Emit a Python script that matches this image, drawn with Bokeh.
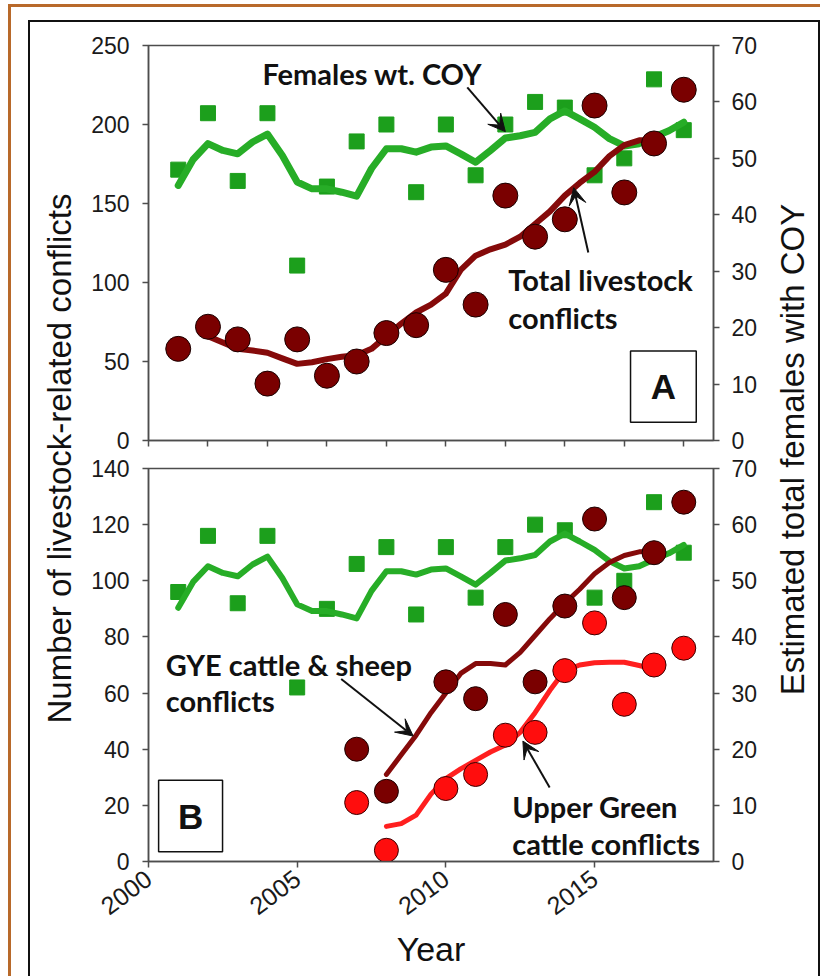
import math
from bokeh.plotting import figure
from bokeh.models import Range1d, LinearAxis, FixedTicker, Label, Arrow, VeeHead, BoxAnnotation
from bokeh.layouts import row, column
from bokeh.embed import file_html
from bokeh.resources import INLINE

# ---------------- data ----------------
years = [2001, 2002, 2003, 2004, 2005, 2006, 2007, 2008, 2009,
         2010, 2011, 2012, 2013, 2014, 2015, 2016, 2017, 2018]
total_conflicts = [58, 72, 64, 36, 64, 41, 50, 68, 73,
                   108, 86, 155, 129, 140, 212, 157, 188, 222]
females_coy = [48, 58, 46, 58, 31, 45, 53, 56, 44,
               56, 47, 56, 60, 59, 47, 50, 64, 55]

coy_trend_years = [2001, 2001.5, 2002, 2002.5, 2003, 2003.5, 2004, 2004.5, 2005,
                   2005.5, 2006, 2006.5, 2007, 2007.5, 2008, 2008.5, 2009, 2009.5,
                   2010, 2010.5, 2011, 2011.5, 2012, 2012.5, 2013, 2013.5, 2014,
                   2014.5, 2015, 2015.5, 2016, 2016.5, 2017, 2017.5, 2018]
coy_trend = [45.2, 49.8, 52.6, 51.4, 50.8, 52.9, 54.3, 50.5, 45.8,
             44.6, 44.6, 44.0, 43.3, 48.2, 51.7, 51.7, 51.1, 52.0,
             52.2, 50.8, 49.3, 51.4, 53.6, 54.0, 54.6, 57.0, 58.4,
             57.0, 55.5, 53.5, 52.2, 52.6, 53.8, 54.9, 56.4]

total_trend_years = [2002, 2002.5, 2003, 2003.5, 2004, 2004.5, 2005, 2005.5, 2006,
                     2006.5, 2007, 2007.5, 2008, 2008.5, 2009, 2009.5, 2010, 2010.5,
                     2011, 2011.5, 2012, 2012.5, 2013, 2013.5, 2014, 2014.5, 2015,
                     2015.5, 2016, 2016.5, 2017]
total_trend = [66, 62, 58, 57, 55.5, 52, 48.5, 49.5, 51.5,
               53, 54, 58, 66, 74, 81, 86, 93, 108,
               117, 121, 124, 129, 137, 145, 155, 163, 170,
               180, 187, 190, 190]

sub_years = [2007, 2008, 2010, 2011, 2012, 2013, 2014, 2015, 2016, 2017, 2018]
gye_conflicts = [40, 25, 64, 58, 88, 64, 91, 122, 94, 110, 128]
ug_conflicts = [21, 4, 26, 31, 45, 46, 68, 85, 56, 70, 76]

sub_trend_years = [2008, 2008.5, 2009, 2009.5, 2010, 2010.5, 2011, 2011.5, 2012, 2012.5,
                   2013, 2013.5, 2014, 2014.5, 2015, 2015.5, 2016, 2016.5, 2017]
gye_trend = [31, 38, 45, 53, 60, 67, 70.5, 70.5, 70, 74.5,
             80.5, 86.5, 92, 97, 102.5, 106.5, 109, 110.3, 110.5]
ug_trend = [12.5, 13.5, 16.5, 24, 29.5, 33, 36, 39, 41.5, 46,
            53, 61, 68, 70, 70.8, 71, 71, 69.8, 68.5]

left_ticks_a = [0, 50, 100, 150, 200, 250]
left_ticks_b = [0, 20, 40, 60, 80, 100, 120, 140]
right_ticks = [0, 10, 20, 30, 40, 50, 60, 70]
x_ticks_a = [2000, 2002, 2004, 2006, 2008, 2010, 2012, 2014, 2016, 2018]
x_ticks_b = [2000, 2005, 2010, 2015]

# ---------------- styles ----------------
GREEN_PT = "#1c9f1c"
GREEN_LN = "#27ad27"
DARK_RED = "#7a0000"
DARK_RED_LN = "#850a0a"
RED = "#ff0d0d"
RED_LN = "#ff1f1f"
AX = "#4d4d4d"
FONT = "Liberation Sans"
ANN_FONT = "Lato"

PANEL_W = 692
H_A = 432
H_B = 522


def style_axis(ax, ticks):
    ax.ticker = FixedTicker(ticks=ticks)
    ax.axis_line_color = AX
    ax.axis_line_width = 1.5
    ax.major_tick_line_color = AX
    ax.major_tick_line_width = 1.5
    ax.major_tick_out = 6
    ax.major_tick_in = 0
    ax.minor_tick_out = 0
    ax.minor_tick_in = 0
    ax.major_label_text_font = FONT
    ax.major_label_text_font_size = "23px"
    ax.major_label_text_color = "#1a1a1a"


def panel(height, mb_top, mb_bottom, ymax, yticks, xticks):
    p = figure(width=PANEL_W, height=height,
               x_range=Range1d(2000, 2019), y_range=Range1d(0, ymax),
               output_backend="svg", toolbar_location=None,
               min_border_left=70, min_border_right=57,
               min_border_top=mb_top, min_border_bottom=mb_bottom)
    p.extra_y_ranges = {"coy": Range1d(0, 70)}
    p.add_layout(LinearAxis(y_range_name="coy"), "right")
    p.xgrid.grid_line_color = None
    p.ygrid.grid_line_color = None
    p.outline_line_color = AX
    p.outline_line_width = 1.5
    p.background_fill_color = "white"
    p.border_fill_color = "white"
    style_axis(p.left[0], yticks)
    p.left[0].major_label_standoff = 13
    style_axis(p.right[0], right_ticks)
    p.right[0].major_label_standoff = 12
    style_axis(p.below[0], xticks)
    return p


def ann(p, x, y, text, size="29px", font=ANN_FONT, align="left"):
    p.add_layout(Label(x=x, y=y, text=text, text_font=font,
                       text_font_style="bold", text_font_size=size,
                       text_align=align, text_baseline="middle",
                       text_color="#111111"))


def arrow(p, xs, ys, xe, ye):
    p.add_layout(Arrow(end=VeeHead(size=17, fill_color="#111111", line_color="#111111"),
                       x_start=xs, y_start=ys, x_end=xe, y_end=ye,
                       line_color="#111111", line_width=2))


def letter_box(p, l, r, b, t, letter):
    p.add_layout(BoxAnnotation(left=l, right=r, bottom=b, top=t,
                               fill_color="white", fill_alpha=1.0,
                               line_color="#111111", line_alpha=1.0, line_width=1.5))
    ann(p, (l + r) / 2, (b + t) / 2, letter, size="35px", font=FONT, align="center")


# ---------------- panel A ----------------
pa = panel(H_A, 23, 14, 250, left_ticks_a, x_ticks_a)
pa.below[0].major_label_overrides = {t: "" for t in x_ticks_a}
pa.below[0].major_label_standoff = 0
pa.below[0].major_label_text_font_size = "1px"

pa.scatter(years, females_coy, marker="square", size=15, color=GREEN_PT, y_range_name="coy")
pa.line(coy_trend_years, coy_trend, line_width=7, color=GREEN_LN, y_range_name="coy",
        line_join="round", line_cap="round")
pa.line(total_trend_years, total_trend, line_width=6, color=DARK_RED_LN,
        line_join="round", line_cap="round")
pa.scatter(years, total_conflicts, marker="circle", size=25, fill_color=DARK_RED,
           line_color="#1a0000", line_width=1)

ann(pa, 2003.83, 232, "Females wt. COY")
arrow(pa, 2010.72, 223.5, 2012.0, 195.5)
ann(pa, 2012.1, 102, "Total livestock")
ann(pa, 2012.1, 78, "conflicts")
arrow(pa, 2014.79, 119, 2014.3, 160)
letter_box(pa, 2016.21, 2018.42, 11.6, 56.6, "A")

# ---------------- panel B ----------------
pb = panel(H_B, 14, 115, 140, left_ticks_b, x_ticks_b)
xb = pb.below[0]
xb.major_label_orientation = 0.64
xb.major_label_text_font_size = "25px"
xb.major_label_standoff = 8
xb.axis_label = "Year"
xb.axis_label_text_font = FONT
xb.axis_label_text_font_size = "34px"
xb.axis_label_text_font_style = "normal"
xb.axis_label_text_color = "#111111"
xb.axis_label_standoff = 4

pb.scatter(years, females_coy, marker="square", size=15, color=GREEN_PT, y_range_name="coy")
pb.line(coy_trend_years, coy_trend, line_width=6, color=GREEN_LN, y_range_name="coy",
        line_join="round", line_cap="round")
pb.line(sub_trend_years, gye_trend, line_width=5, color=DARK_RED_LN,
        line_join="round", line_cap="round")
pb.line(sub_trend_years, ug_trend, line_width=5, color=RED_LN,
        line_join="round", line_cap="round")
pb.scatter(sub_years, gye_conflicts, marker="circle", size=24, fill_color=DARK_RED,
           line_color="#1a0000", line_width=1)
pb.scatter(sub_years, ug_conflicts, marker="circle", size=24, fill_color=RED,
           line_color="#3a0000", line_width=1)

ann(pb, 2000.58, 70.2, "GYE cattle & sheep")
ann(pb, 2000.58, 57.5, "conflicts")
arrow(pb, 2006.48, 65, 2008.9, 44.7)
ann(pb, 2012.23, 19.5, "Upper Green")
ann(pb, 2012.23, 6.3, "cattle conflicts")
arrow(pb, 2013.49, 26.4, 2012.59, 42.9)
letter_box(pb, 2000.34, 2002.49, 3.5, 28.9, "B")

# ---------------- side labels spanning both panels ----------------
TOTAL_H = H_A + H_B


def side_label(width, x, y, text):
    f = figure(width=width, height=TOTAL_H, x_range=Range1d(0, width),
               y_range=Range1d(0, TOTAL_H), output_backend="svg",
               toolbar_location=None, x_axis_location=None, y_axis_location=None,
               min_border=0, min_border_left=0, min_border_right=0,
               min_border_top=0, min_border_bottom=0)
    f.xgrid.grid_line_color = None
    f.ygrid.grid_line_color = None
    f.outline_line_color = None
    f.background_fill_color = "white"
    f.border_fill_color = "white"
    f.add_layout(Label(x=x, y=y, text=text, angle=math.pi / 2,
                       text_font=FONT, text_font_size="33px",
                       text_align="center", text_baseline="middle",
                       text_color="#111111"))
    return f


left_lab = side_label(48, 29, 518, "Number of livestock-related conflicts")
right_lab = side_label(48, 22, 527, "Estimated total females with COY")

inner = row(left_lab, column(pa, pb), right_lab,
            styles={"border-top": "2px solid #111111", "border-left": "2px solid #111111",
                    "border-right": "2px solid #111111", "background-color": "white"})
outer = column(inner,
               styles={"margin-left": "8px", "margin-top": "4px",
                       "border-top": "3px solid #b8692a", "border-left": "3px solid #b8692a",
                       "padding-top": "13px", "padding-left": "17px",
                       "background-color": "white"})

open("out.html", "w").write(file_html(outer, INLINE))
